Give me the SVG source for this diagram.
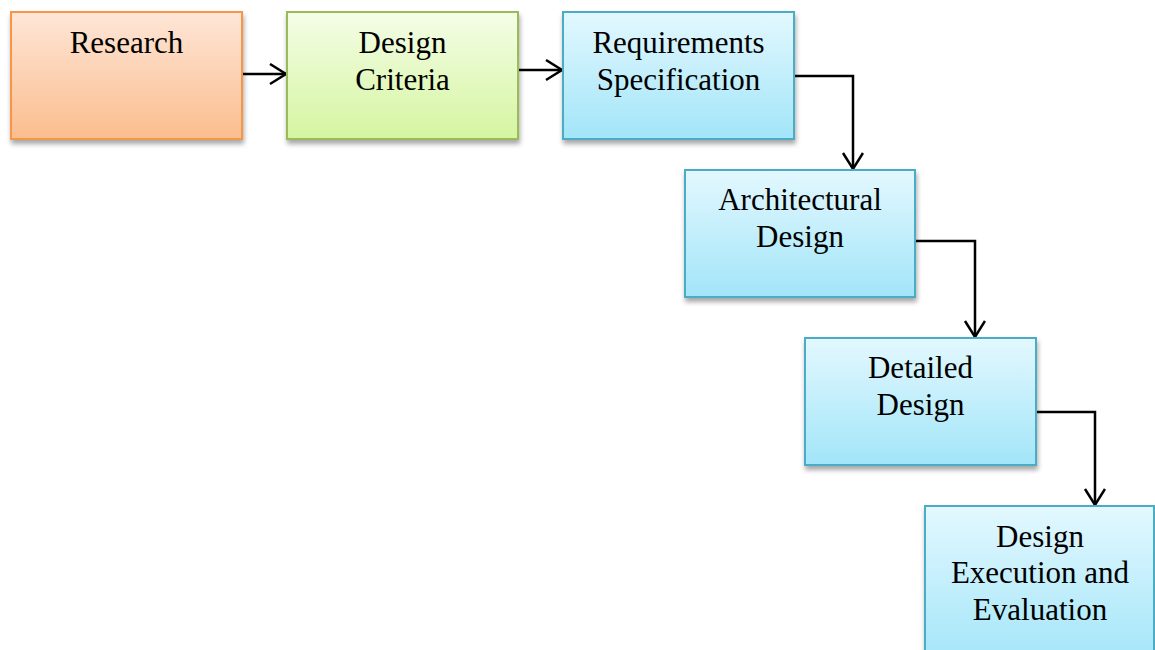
<svg xmlns="http://www.w3.org/2000/svg" width="1155" height="650" viewBox="0 0 1155 650">
<defs>
<linearGradient id="gO" x1="0" y1="0" x2="0" y2="1"><stop offset="0" stop-color="#fee6d7"/><stop offset="1" stop-color="#fbbd8e"/></linearGradient>
<linearGradient id="gG" x1="0" y1="0" x2="0" y2="1"><stop offset="0" stop-color="#f4fde7"/><stop offset="1" stop-color="#d5f5a0"/></linearGradient>
<linearGradient id="gB" x1="0" y1="0" x2="0" y2="1"><stop offset="0" stop-color="#e3f8fe"/><stop offset="1" stop-color="#a2e5f9"/></linearGradient>
<filter id="sh" x="-10%" y="-10%" width="130%" height="130%"><feGaussianBlur in="SourceAlpha" stdDeviation="2.5"/><feOffset dx="1" dy="4"/><feComponentTransfer><feFuncA type="linear" slope="0.35"/></feComponentTransfer><feMerge><feMergeNode/><feMergeNode in="SourceGraphic"/></feMerge></filter>
<marker id="arr" markerWidth="24" markerHeight="24" refX="17" refY="11" orient="auto" markerUnits="userSpaceOnUse"><path d="M1,1 L17,11 L1,21" fill="none" stroke="#000" stroke-width="2.5"/></marker>
</defs>
<style>
.box{stroke-width:2;filter:url(#sh)}
.o{fill:url(#gO);stroke:#f79646}
.g{fill:url(#gG);stroke:#9bbb59}
.b{fill:url(#gB);stroke:#4bacc6}
text{font-family:"Liberation Serif","Times New Roman",Times,serif;font-size:31px;fill:#000;text-anchor:middle}
.c{fill:none;stroke:#000;stroke-width:2.5;marker-end:url(#arr)}
</style>
<g id="connectors">
<path class="c" d="M242,74 H286"/>
<path class="c" d="M518,70 H562"/>
<path class="c" d="M794,76 H853 V169"/>
<path class="c" d="M915,241 H975 V337"/>
<path class="c" d="M1036,412 H1095 V505"/>
</g>
<g id="research"><rect class="box o" x="11" y="12" width="231" height="127"/><text x="126.5" y="53">Research</text></g>
<g id="design-criteria"><rect class="box g" x="287" y="12" width="231" height="127"/><text x="402.5" y="53">Design</text><text x="402.5" y="90">Criteria</text></g>
<g id="requirements"><rect class="box b" x="563" y="12" width="231" height="127"/><text x="678.5" y="53">Requirements</text><text x="678.5" y="90">Specification</text></g>
<g id="architectural"><rect class="box b" x="685" y="170" width="230" height="127"/><text x="800" y="210">Architectural</text><text x="800" y="247">Design</text></g>
<g id="detailed"><rect class="box b" x="805" y="338" width="231" height="127"/><text x="920.5" y="378">Detailed</text><text x="920.5" y="415">Design</text></g>
<g id="execution"><rect class="box b" x="925" y="506" width="229" height="160"/><text x="1040" y="547">Design</text><text x="1040" y="583">Execution and</text><text x="1040" y="620">Evaluation</text></g>
</svg>
